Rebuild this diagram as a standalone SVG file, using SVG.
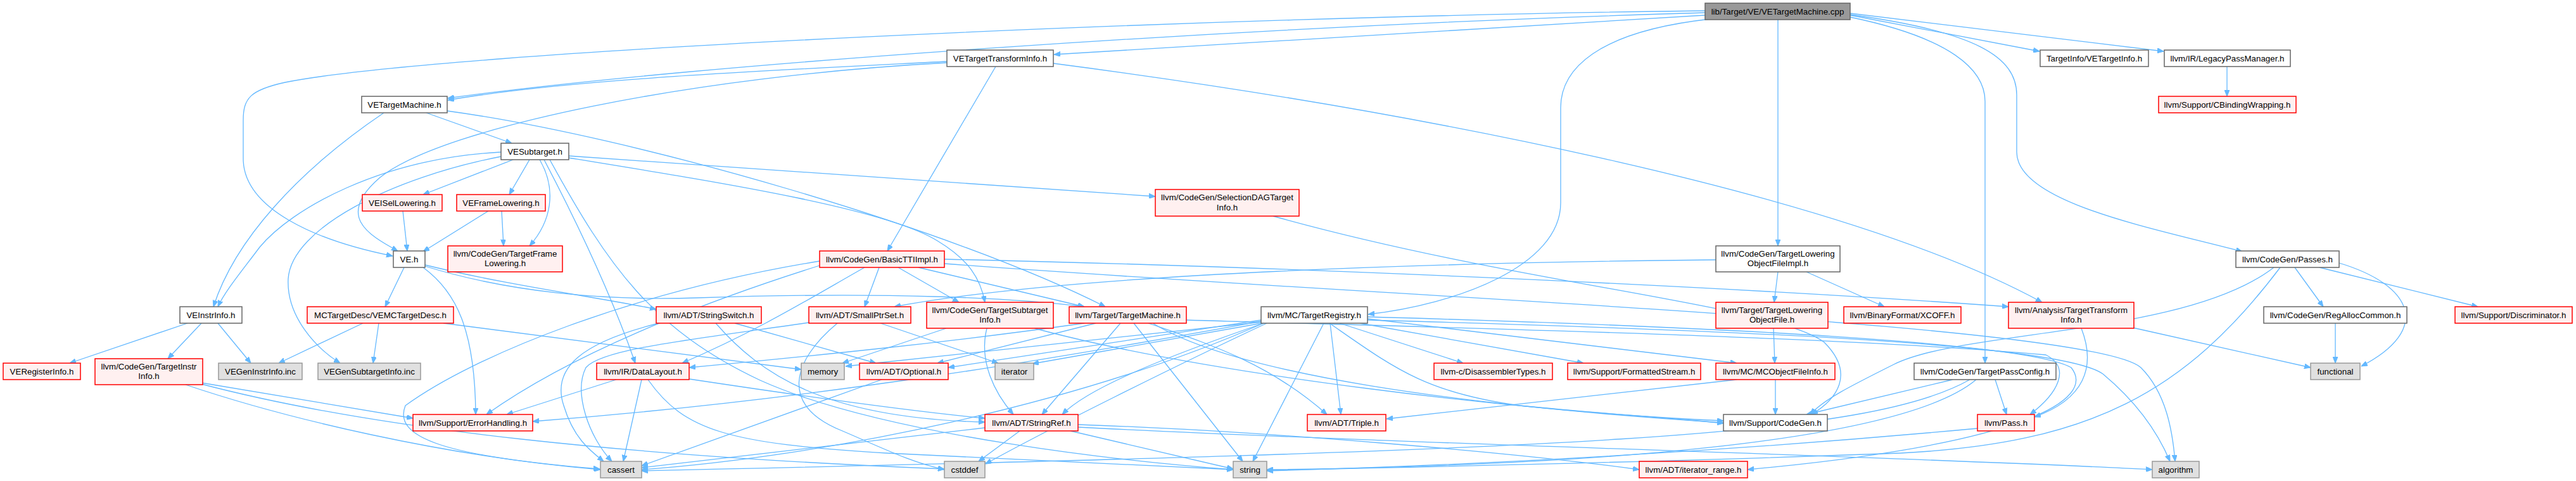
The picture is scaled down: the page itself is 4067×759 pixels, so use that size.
<svg xmlns="http://www.w3.org/2000/svg" width="4067" height="759" viewBox="0 0 4067 759">
<style>
.bg{fill:#ffffff}
rect{stroke-width:1.5}
.w{fill:#ffffff;stroke:#666666}
.r{fill:#fff0f0;stroke:#ff0000}
.g{fill:#e0e0e0;stroke:#999999}
.root{fill:#999999;stroke:#666666}
text{font-family:"Liberation Sans",Helvetica,Arial,sans-serif;font-size:13.33px;fill:#000000;text-anchor:middle}
#edges path{fill:none;stroke:#63b8ff;stroke-width:1.3;marker-end:url(#a)}
</style>
<defs>
<marker id="a" markerWidth="10" markerHeight="8" refX="10" refY="4" orient="auto" markerUnits="userSpaceOnUse">
<path d="M0,0 L10,4 L0,8 z" fill="#63b8ff" stroke="#63b8ff" stroke-width="1"/>
</marker>
</defs>
<rect class="bg" x="0" y="0" width="4067" height="759" style="stroke:none"/>
<g id="edges">
<path d="M2692,24 L1664,86"/>
<path d="M2692,20 C2000,40 1100,100 707,155"/>
<path d="M2692,17 C1900,26 700,80 450,130 C395,142 384,155 384,190 L384,250 C384,330 500,380 620,404"/>
<path d="M2700,30 C2520,50 2464,110 2464,170 L2464,320 C2464,420 2300,480 2160,496"/>
<path d="M2807,31 L2807,388"/>
<path d="M2921,24 L3220,81"/>
<path d="M2921,21 L3416,81"/>
<path d="M2921,27 C3080,60 3134,110 3134,160 L3134,573"/>
<path d="M2921,23 C3120,50 3184,90 3184,150 L3184,240 C3184,320 3400,360 3540,397"/>
<path d="M1495,97 C1200,112 900,125 707,158"/>
<path d="M1495,99 C1100,120 700,200 600,280 C530,340 580,370 628,396"/>
<path d="M1572,105 L1401,396"/>
<path d="M1663,100 C2200,170 2900,300 3224,477"/>
<path d="M673,178 L808,226"/>
<path d="M606,178 C470,270 370,380 337,484"/>
<path d="M706,175 C1000,215 1500,360 1745,484"/>
<path d="M810,252 L668,307"/>
<path d="M836,252 L804,307"/>
<path d="M852,252 C880,300 870,350 836,388"/>
<path d="M859,252 C900,330 960,450 1003,573"/>
<path d="M868,252 C960,420 1030,520 1200,600 C1400,690 1800,730 1947,741"/>
<path d="M791,240 C600,250 460,330 410,390 C380,430 355,460 344,484"/>
<path d="M791,247 C620,280 460,360 455,440 C452,500 500,550 537,573"/>
<path d="M898,246 L1824,310"/>
<path d="M898,249 C1150,290 1400,330 1480,380 C1530,410 1548,440 1555,477"/>
<path d="M636,333 L643,396"/>
<path d="M771,333 L668,397"/>
<path d="M792,333 L795,388"/>
<path d="M638,422 L608,484"/>
<path d="M668,422 C720,460 750,520 751,654"/>
<path d="M671,418 C800,450 950,470 1036,488"/>
<path d="M671,420 C800,460 950,475 1100,470 C1400,460 1600,470 1712,484"/>
<path d="M296,510 L110,573"/>
<path d="M318,510 L265,566"/>
<path d="M344,510 L396,573"/>
<path d="M573,510 L440,573"/>
<path d="M598,510 L589,573"/>
<path d="M700,510 L1265,583"/>
<path d="M318,604 L652,660"/>
<path d="M293,607 C450,660 700,720 948,741"/>
<path d="M318,606 C600,680 1000,720 1491,740"/>
<path d="M973,599 L800,654"/>
<path d="M1013,599 L984,728"/>
<path d="M1088,598 C1300,630 1450,650 1555,660"/>
<path d="M1023,599 C1080,680 1150,700 1400,715 C1700,730 1850,737 1947,741"/>
<path d="M1040,510 C920,540 870,580 890,640 C905,690 930,710 953,728"/>
<path d="M1160,510 L1383,573"/>
<path d="M1130,510 C1200,590 1300,660 1555,666"/>
<path d="M1390,510 L1576,573"/>
<path d="M1322,510 C1250,570 1230,640 1330,680 C1400,710 1440,730 1491,741"/>
<path d="M1277,509 C1100,535 950,550 925,580 C905,620 930,690 966,728"/>
<path d="M1392,599 L1013,735"/>
<path d="M1610,680 L1545,728"/>
<path d="M1555,675 L1013,738"/>
<path d="M1690,680 L1947,740"/>
<path d="M1702,670 C2000,680 2400,715 2588,741"/>
<path d="M1702,674 C2200,700 3000,720 3398,741"/>
<path d="M1494,518 L1330,573"/>
<path d="M1558,518 C1545,570 1570,620 1600,654"/>
<path d="M1633,518 C1900,590 2400,650 2721,664"/>
<path d="M1730,510 L1480,573"/>
<path d="M1769,510 L1645,654"/>
<path d="M1790,510 L1962,728"/>
<path d="M1712,510 C1500,540 1300,560 1088,580"/>
<path d="M1813,510 C1900,540 2000,570 2095,654"/>
<path d="M1820,510 C1950,590 2300,640 2721,667"/>
<path d="M1873,505 C2200,515 2900,530 3230,560 C3270,580 3250,620 3205,654"/>
<path d="M2100,510 L2117,654"/>
<path d="M2090,510 L1978,728"/>
<path d="M2115,510 L2310,573"/>
<path d="M2147,510 L2500,573"/>
<path d="M2159,503 L2742,573"/>
<path d="M2099,510 C2200,580 2250,620 2400,640 C2550,655 2650,660 2721,668"/>
<path d="M1993,508 L1335,578"/>
<path d="M1992,510 L1630,574"/>
<path d="M1991,505 L1497,580"/>
<path d="M1991,507 C1700,560 1300,630 841,665"/>
<path d="M1995,510 C1700,640 1300,720 1013,741"/>
<path d="M2000,510 C1850,580 1650,680 1556,732"/>
<path d="M1995,510 C1850,560 1720,610 1677,654"/>
<path d="M2159,500 C2700,515 3200,540 3270,580 C3310,630 3200,700 2759,741"/>
<path d="M2159,505 C2700,520 3250,540 3320,590 C3380,640 3410,690 3426,728"/>
<path d="M2807,429 L2801,477"/>
<path d="M2852,429 L2975,484"/>
<path d="M2709,410 C2300,414 1700,430 1412,484"/>
<path d="M2800,518 L2802,573"/>
<path d="M2803,599 L2803,654"/>
<path d="M2742,599 L2189,661"/>
<path d="M3150,599 L3168,654"/>
<path d="M3083,599 L2852,654"/>
<path d="M3110,599 C2950,690 2500,710 1013,743"/>
<path d="M3120,599 C3000,700 2500,735 2000,741"/>
<path d="M3122,676 C2700,715 2300,735 2000,743"/>
<path d="M3623,422 L3668,484"/>
<path d="M3662,422 L3912,484"/>
<path d="M3693,415 C3810,450 3840,520 3728,578"/>
<path d="M3590,422 C3450,530 3100,520 2990,575 C2920,610 2880,630 2858,654"/>
<path d="M3600,422 C3450,620 3300,700 3000,715 C2600,730 2200,738 2000,742"/>
<path d="M3687,510 L3687,573"/>
<path d="M3286,518 C3310,580 3290,630 3212,658"/>
<path d="M3367,517 L3648,580"/>
<path d="M3516,105 L3516,152"/>
<path d="M1388,422 L1365,484"/>
<path d="M1418,422 L1514,477"/>
<path d="M1450,422 L1712,484"/>
<path d="M1365,422 C1280,470 1200,520 1077,573"/>
<path d="M1294,419 C1100,480 900,560 768,654"/>
<path d="M1294,412 C1000,460 750,560 640,640 C620,690 700,720 947,740"/>
<path d="M1491,409 C2000,420 2700,450 3171,484"/>
<path d="M1491,416 C2200,470 3300,510 3380,580 C3420,620 3430,680 3434,728"/>
<path d="M2010,341 C2400,450 2800,480 2880,540 C2930,590 2900,630 2860,654"/>
</g>
<g id="n0"><rect class="root" x="2692" y="5" width="229" height="26"/><text x="2806.5" y="23">lib/Target/VE/VETargetMachine.cpp</text></g>
<g id="n1"><rect class="w" x="1495" y="79" width="168" height="26"/><text x="1579" y="97">VETargetTransformInfo.h</text></g>
<g id="n2"><rect class="w" x="3221" y="79" width="171" height="26"/><text x="3306.5" y="97">TargetInfo/VETargetInfo.h</text></g>
<g id="n3"><rect class="w" x="3417" y="79" width="199" height="26"/><text x="3516.5" y="97">llvm/IR/LegacyPassManager.h</text></g>
<g id="n4"><rect class="w" x="571" y="152" width="135" height="26"/><text x="638.5" y="170">VETargetMachine.h</text></g>
<g id="n5"><rect class="r" x="3408" y="152" width="217" height="26"/><text x="3516.5" y="170">llvm/Support/CBindingWrapping.h</text></g>
<g id="n6"><rect class="w" x="791" y="226" width="107" height="26"/><text x="844.5" y="244">VESubtarget.h</text></g>
<g id="n7"><rect class="r" x="1824" y="299" width="227" height="42"/><text x="1937.5" y="316">llvm/CodeGen/SelectionDAGTarget</text><text x="1937.5" y="332">Info.h</text></g>
<g id="n8"><rect class="r" x="572" y="307" width="126" height="26"/><text x="635" y="325">VEISelLowering.h</text></g>
<g id="n9"><rect class="r" x="721" y="307" width="140" height="26"/><text x="791" y="325">VEFrameLowering.h</text></g>
<g id="n10"><rect class="w" x="621" y="396" width="50" height="26"/><text x="646" y="414">VE.h</text></g>
<g id="n11"><rect class="r" x="707" y="388" width="181" height="41"/><text x="797.5" y="405">llvm/CodeGen/TargetFrame</text><text x="797.5" y="420">Lowering.h</text></g>
<g id="n12"><rect class="r" x="1294" y="396" width="197" height="26"/><text x="1392.5" y="414">llvm/CodeGen/BasicTTIImpl.h</text></g>
<g id="n13"><rect class="w" x="2709" y="388" width="196" height="41"/><text x="2807" y="405">llvm/CodeGen/TargetLowering</text><text x="2807" y="420">ObjectFileImpl.h</text></g>
<g id="n14"><rect class="w" x="3530" y="396" width="163" height="26"/><text x="3611.5" y="414">llvm/CodeGen/Passes.h</text></g>
<g id="n15"><rect class="w" x="284" y="484" width="98" height="26"/><text x="333" y="502">VEInstrInfo.h</text></g>
<g id="n16"><rect class="r" x="485" y="484" width="231" height="26"/><text x="600.5" y="502">MCTargetDesc/VEMCTargetDesc.h</text></g>
<g id="n17"><rect class="r" x="1036" y="484" width="166" height="26"/><text x="1119" y="502">llvm/ADT/StringSwitch.h</text></g>
<g id="n18"><rect class="r" x="1277" y="484" width="161" height="26"/><text x="1357.5" y="502">llvm/ADT/SmallPtrSet.h</text></g>
<g id="n19"><rect class="r" x="1463" y="477" width="200" height="41"/><text x="1563" y="494">llvm/CodeGen/TargetSubtarget</text><text x="1563" y="509">Info.h</text></g>
<g id="n20"><rect class="r" x="1688" y="484" width="185" height="26"/><text x="1780.5" y="502">llvm/Target/TargetMachine.h</text></g>
<g id="n21"><rect class="w" x="1991" y="484" width="168" height="26"/><text x="2075" y="502">llvm/MC/TargetRegistry.h</text></g>
<g id="n22"><rect class="r" x="2709" y="477" width="177" height="41"/><text x="2797.5" y="494">llvm/Target/TargetLowering</text><text x="2797.5" y="509">ObjectFile.h</text></g>
<g id="n23"><rect class="r" x="2911" y="484" width="185" height="26"/><text x="3003.5" y="502">llvm/BinaryFormat/XCOFF.h</text></g>
<g id="n24"><rect class="r" x="3171" y="477" width="198" height="41"/><text x="3270" y="494">llvm/Analysis/TargetTransform</text><text x="3270" y="509">Info.h</text></g>
<g id="n25"><rect class="w" x="3574" y="484" width="226" height="26"/><text x="3687" y="502">llvm/CodeGen/RegAllocCommon.h</text></g>
<g id="n26"><rect class="r" x="3876" y="484" width="185" height="26"/><text x="3968.5" y="502">llvm/Support/Discriminator.h</text></g>
<g id="n27"><rect class="r" x="5" y="573" width="122" height="26"/><text x="66" y="591">VERegisterInfo.h</text></g>
<g id="n28"><rect class="r" x="150" y="566" width="170" height="41"/><text x="235" y="583">llvm/CodeGen/TargetInstr</text><text x="235" y="598">Info.h</text></g>
<g id="n29"><rect class="g" x="345" y="573" width="132" height="26"/><text x="411" y="591">VEGenInstrInfo.inc</text></g>
<g id="n30"><rect class="g" x="502" y="573" width="162" height="26"/><text x="583" y="591">VEGenSubtargetInfo.inc</text></g>
<g id="n31"><rect class="r" x="942" y="573" width="146" height="26"/><text x="1015" y="591">llvm/IR/DataLayout.h</text></g>
<g id="n32"><rect class="g" x="1265" y="573" width="68" height="26"/><text x="1299" y="591">memory</text></g>
<g id="n33"><rect class="r" x="1357" y="573" width="140" height="26"/><text x="1427" y="591">llvm/ADT/Optional.h</text></g>
<g id="n34"><rect class="g" x="1571" y="573" width="61" height="26"/><text x="1601.5" y="591">iterator</text></g>
<g id="n35"><rect class="r" x="2264" y="573" width="187" height="26"/><text x="2357.5" y="591">llvm-c/DisassemblerTypes.h</text></g>
<g id="n36"><rect class="r" x="2475" y="573" width="210" height="26"/><text x="2580" y="591">llvm/Support/FormattedStream.h</text></g>
<g id="n37"><rect class="r" x="2709" y="573" width="188" height="26"/><text x="2803" y="591">llvm/MC/MCObjectFileInfo.h</text></g>
<g id="n38"><rect class="w" x="3022" y="573" width="224" height="26"/><text x="3134" y="591">llvm/CodeGen/TargetPassConfig.h</text></g>
<g id="n39"><rect class="g" x="3648" y="573" width="78" height="26"/><text x="3687" y="591">functional</text></g>
<g id="n40"><rect class="r" x="652" y="654" width="189" height="26"/><text x="746.5" y="672">llvm/Support/ErrorHandling.h</text></g>
<g id="n41"><rect class="r" x="1555" y="654" width="147" height="26"/><text x="1628.5" y="672">llvm/ADT/StringRef.h</text></g>
<g id="n42"><rect class="r" x="2064" y="654" width="124" height="26"/><text x="2126" y="672">llvm/ADT/Triple.h</text></g>
<g id="n43"><rect class="w" x="2721" y="654" width="164" height="26"/><text x="2803" y="672">llvm/Support/CodeGen.h</text></g>
<g id="n44"><rect class="r" x="3122" y="654" width="90" height="26"/><text x="3167" y="672">llvm/Pass.h</text></g>
<g id="n45"><rect class="g" x="948" y="728" width="65" height="26"/><text x="980.5" y="746">cassert</text></g>
<g id="n46"><rect class="g" x="1491" y="728" width="64" height="26"/><text x="1523" y="746">cstddef</text></g>
<g id="n47"><rect class="g" x="1947" y="728" width="53" height="26"/><text x="1973.5" y="746">string</text></g>
<g id="n48"><rect class="r" x="2588" y="728" width="171" height="26"/><text x="2673.5" y="746">llvm/ADT/iterator_range.h</text></g>
<g id="n49"><rect class="g" x="3398" y="728" width="74" height="26"/><text x="3435" y="746">algorithm</text></g>
</svg>
